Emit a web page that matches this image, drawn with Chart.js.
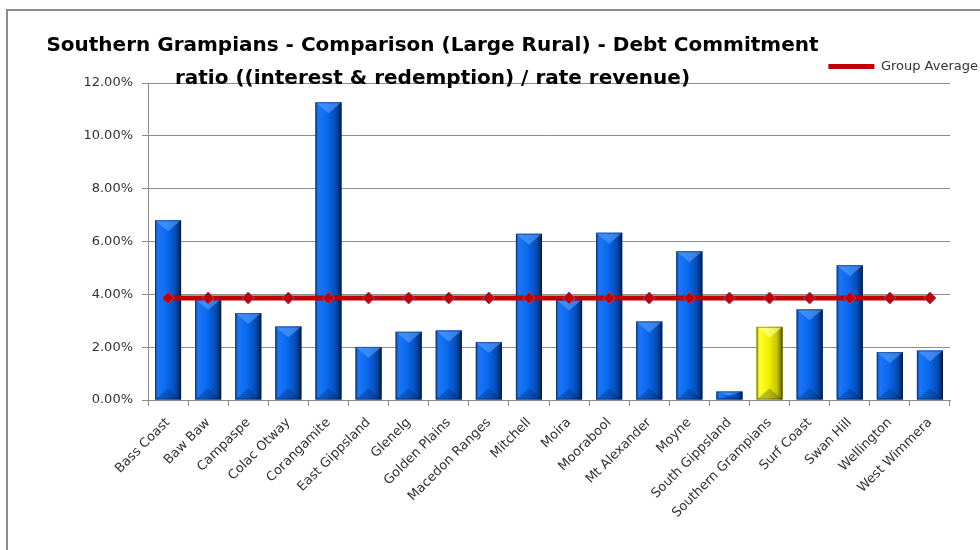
<!DOCTYPE html>
<html>
<head>
<meta charset="utf-8">
<script src="https://cdn.jsdelivr.net/npm/chart.js@4/dist/chart.umd.min.js"></script>
<style>
  html, body { margin: 0; padding: 0; background: #fff; overflow: hidden; }
  #wrap { position: relative; width: 980px; height: 550px; }
  #frame { position: absolute; left: 6px; top: 9px; right: -10px; bottom: -10px;
           border-left: 2px solid #8c8c8c; border-top: 2px solid #8c8c8c; }
  #hypechart { position: absolute; left: 0; top: 0; }
  #title { position: absolute; left: 0; top: 28px; width: 865px; text-align: center;
           font: bold 20px "DejaVu Sans", sans-serif; line-height: 33px; color: #000; z-index: 2; }
</style>
</head>
<body>
<div id="wrap">
  <div id="frame"></div>
  <canvas id="hypechart" width="980" height="550"></canvas>
  <div id="title">Southern Grampians - Comparison (Large Rural) - Debt Commitment<br>ratio ((interest &amp; redemption) / rate revenue)</div>
</div>
<script>
// councils in the Large Rural group
const councils = ['Bass Coast', 'Baw Baw', 'Campaspe', 'Colac Otway', 'Corangamite', 'East Gippsland',
  'Glenelg', 'Golden Plains', 'Macedon Ranges', 'Mitchell', 'Moira', 'Moorabool', 'Mt Alexander',
  'Moyne', 'South Gippsland', 'Southern Grampians', 'Surf Coast', 'Swan Hill', 'Wellington', 'West Wimmera'];
// debt commitment ratio, in %
const debtRatio = [6.80, 3.82, 3.29, 2.78, 11.27, 2.01, 2.58, 2.63, 2.19, 6.29,
  3.80, 6.33, 2.97, 5.63, 0.32, 2.77, 3.43, 5.10, 1.81, 1.87];
const groupAverage = [3.86, 3.86, 3.86, 3.86, 3.86, 3.86, 3.86, 3.86, 3.86, 3.86,
  3.86, 3.86, 3.86, 3.86, 3.86, 3.86, 3.86, 3.86, 3.86, 3.86];
const yTicks = [0, 2, 4, 6, 8, 10, 12];
const highlight = 'Southern Grampians';

const blueStops = [[0, '#0850b8'], [0.12, '#1b76f6'], [0.45, '#0a69ee'], [0.78, '#064cb4'], [1, '#02214f']];
const yellowStops = [[0, '#a8a800'], [0.12, '#ffff30'], [0.45, '#f2f200'], [0.78, '#c6c600'], [1, '#5c5c00']];

// paints the cylinder-ish shading over each bar, using the bar element geometry
const bevel = {
    id: 'bevel',
    afterDatasetDraw(chart, args) {
        if (args.index !== 0) return;
        const ctx = chart.ctx;
        args.meta.data.forEach(function(bar, i){
            const p = bar.getProps(['x', 'y', 'base', 'width'], true);
            const left = p.x - p.width / 2, right = p.x + p.width / 2;
            const hi = councils[i] == highlight;
            const g = ctx.createLinearGradient(left, 0, right, 0);
            (hi ? yellowStops : blueStops).forEach(s => g.addColorStop(s[0], s[1]));
            ctx.save();
            ctx.fillStyle = g;
            ctx.fillRect(left, p.y, p.width, p.base - p.y);
            const h = Math.min(p.width * 0.42, (p.base - p.y) / 2);
            ctx.fillStyle = hi ? 'rgba(255,255,170,0.6)' : 'rgba(90,160,255,0.6)';
            ctx.beginPath();
            ctx.moveTo(left, p.y); ctx.lineTo(right, p.y); ctx.lineTo(p.x, p.y + h);
            ctx.closePath(); ctx.fill();
            ctx.fillStyle = 'rgba(0,20,60,0.25)';
            ctx.beginPath();
            ctx.moveTo(left, p.base); ctx.lineTo(right, p.base); ctx.lineTo(p.x, p.base - h);
            ctx.closePath(); ctx.fill();
            ctx.strokeStyle = 'rgba(0,0,0,0.35)';
            ctx.lineWidth = 1;
            ctx.strokeRect(left + 0.5, p.y + 0.5, p.width - 1, p.base - p.y - 1);
            ctx.restore();
        });
    }
};

window.onload = function(){
    createGraph();
}

function createGraph(){
    Chart.defaults.font.family = '"DejaVu Sans", sans-serif';
    const ctx = document.getElementById('hypechart').getContext('2d');
    new Chart(ctx, {
        data: {
            labels: councils,
            datasets: [{
                type: 'bar',
                label: 'Debt Commitment',
                data: debtRatio,
                backgroundColor: c => councils[c.dataIndex] == highlight ? '#f2f200' : '#0a69ee',
                barPercentage: 0.65,
                categoryPercentage: 1,
                order: 2
            }, {
                type: 'line',
                label: 'Group Average',
                data: groupAverage,
                borderColor: '#c00000',
                backgroundColor: '#c00000',
                borderWidth: 5,
                pointStyle: 'rectRot',
                pointRadius: 6,
                pointBackgroundColor: '#c00000',
                pointBorderColor: '#9a4a8a',
                pointBorderWidth: 1,
                order: 1
            }]
        },
        options: {
            responsive: false,
            animation: false,
            layout: { padding: { top: 60, right: 2, bottom: 0, left: 0 } },
            plugins: {
                title: { display: false },
                tooltip: { enabled: false },
                legend: {
                    position: 'top',
                    align: 'end',
                    labels: {
                        boxWidth: 46,
                        boxHeight: 5,
                        padding: 0,
                        color: '#333',
                        font: { size: 13 },
                        generateLabels: chart => Chart.defaults.plugins.legend.labels.generateLabels(chart)
                            .filter(l => l.text == 'Group Average')
                            .map(l => Object.assign(l, { lineWidth: 0 }))
                    }
                }
            },
            scales: {
                x: {
                    grid: { drawOnChartArea: false, tickLength: 6, color: '#8c8c8c' },
                    border: { color: '#8c8c8c' },
                    ticks: { minRotation: 45, maxRotation: 45, autoSkip: false, color: '#333', font: { size: 13 }, padding: 9 },
                    afterFit: s => { s.height = 150; }
                },
                y: {
                    min: 0,
                    max: 12,
                    afterBuildTicks: s => { s.ticks = yTicks.map(v => ({ value: v })); },
                    grid: { color: '#8c8c8c', tickLength: 6 },
                    border: { color: '#8c8c8c' },
                    ticks: { color: '#333', font: { size: 13 }, padding: 9, callback: v => v.toFixed(2) + '%' },
                    afterFit: s => { s.width = 148; }
                },
                y2: {
                    position: 'right',
                    min: 0,
                    max: 1,
                    grid: { display: false },
                    border: { display: false },
                    ticks: { display: false },
                    afterFit: s => { s.width = 28; }
                }
            }
        },
        plugins: [bevel]
    });
}
</script>
</body>
</html>
